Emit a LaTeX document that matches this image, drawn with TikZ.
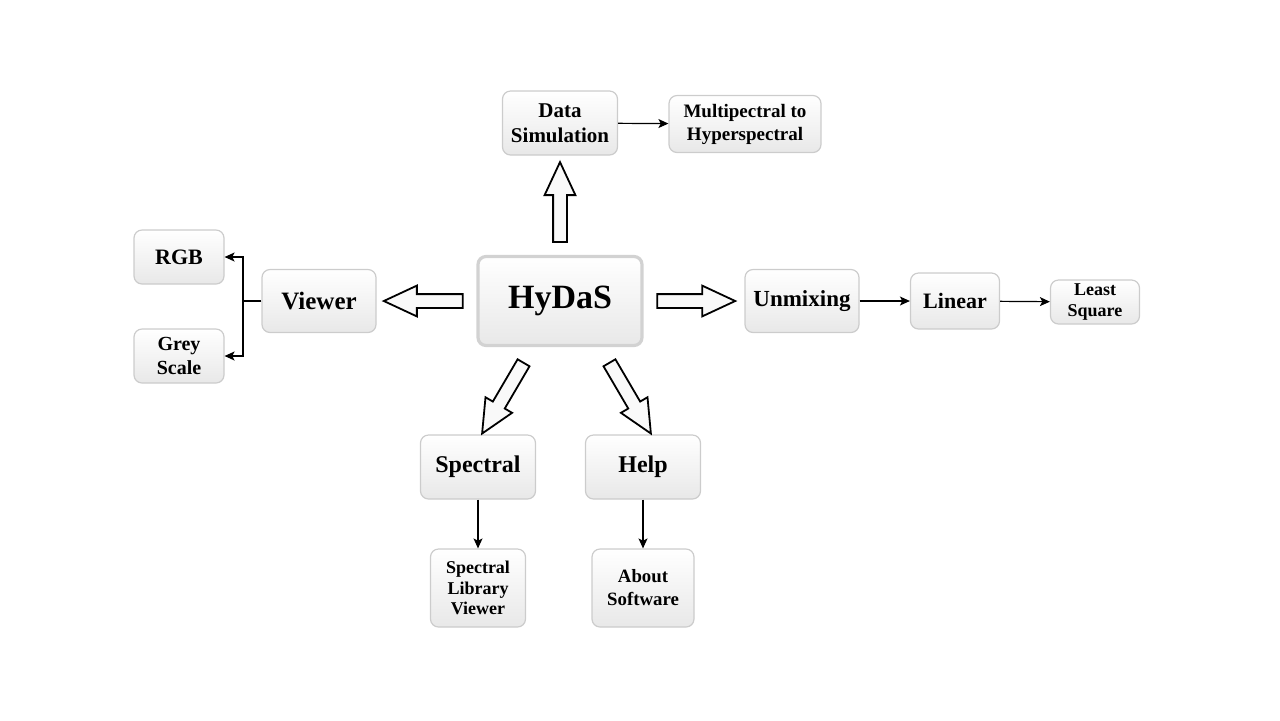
\documentclass[tikz,border=0pt]{standalone}
\usepackage{fontspec}
\setmainfont{Liberation Serif}
\usepackage{tikz}
\usetikzlibrary{shapes.arrows}
\usetikzlibrary{arrows.meta}

\begin{document}
\begin{tikzpicture}[x=0.5pt, y=-0.5pt,
    menu/.style={draw=gray!40, line width=0.6pt, rounded corners=4pt, top color=white, bottom color=gray!18, align=center, inner sep=0pt},
    bigarrow/.style={single arrow, draw=black, line width=0.9pt, fill=gray!5, inner sep=3pt, single arrow head extend=4.25pt, single arrow tip angle=50, anchor=tail},
    link/.style={-{Stealth[length=5pt, width=4.5pt, inset=1.2pt]}, line width=0.6pt}]
        \useasboundingbox (0,0) rectangle (1280,720);
        \node[menu, minimum width=82pt, minimum height=44.5pt, line width=1.6pt, draw=gray!35, font=\bfseries\fontsize{17}{19}\selectfont] (hydas) at (560,301) {HyDaS};
        \node[menu, minimum width=57.5pt, minimum height=32pt, font=\bfseries\fontsize{10.5}{12.5}\selectfont] (datasim) at (560,123) {Data\\Simulation};
        \node[menu, minimum width=76pt, minimum height=28.5pt, font=\bfseries\fontsize{9.5}{11.5}\selectfont] (multi) at (745,124) {Multipectral to\\Hyperspectral};
        \node[menu, minimum width=57pt, minimum height=31.5pt, font=\bfseries\fontsize{12.5}{14}\selectfont] (viewer) at (319,301) {Viewer};
        \node[menu, minimum width=45pt, minimum height=27pt, font=\bfseries\fontsize{11}{13}\selectfont] (rgb) at (179,257) {RGB};
        \node[menu, minimum width=45pt, minimum height=27pt, font=\bfseries\fontsize{10}{11.7}\selectfont] (grey) at (179,356) {Grey\\Scale};
        \node[menu, minimum width=57pt, minimum height=31.5pt, font=\bfseries\fontsize{11.5}{14}\selectfont] (unmix) at (802,301) {Unmixing};
        \node[menu, minimum width=44.5pt, minimum height=28pt, font=\bfseries\fontsize{11}{13}\selectfont] (linear) at (955,301) {Linear};
        \node[menu, minimum width=44.5pt, minimum height=22pt, font=\bfseries\fontsize{9}{10.5}\selectfont] (lsq) at (1095,302) {Least\\Square};
        \node[menu, minimum width=57.5pt, minimum height=32pt, font=\bfseries\fontsize{12}{14}\selectfont] (spectral) at (478,467) {Spectral};
        \node[menu, minimum width=57.5pt, minimum height=32pt, font=\bfseries\fontsize{12}{14}\selectfont] (help) at (643,467) {Help};
        \node[menu, minimum width=47.5pt, minimum height=39pt, font=\bfseries\fontsize{9}{10.3}\selectfont] (speclib) at (478,588) {Spectral\\Library\\Viewer};
        \node[menu, minimum width=51pt, minimum height=39pt, font=\bfseries\fontsize{9.4}{11.5}\selectfont] (about) at (643,588) {About\\Software};
        \coordinate (sp1) at (524,362);
        \coordinate (sp2) at (483,432);
        \coordinate (hp1) at (609,362);
        \coordinate (hp2) at (650,432);
        \coordinate (fork) at (243,301);
        \path[allow upside down] (hydas.north) -- (datasim.south) node[pos=0.12, sloped, bigarrow, minimum height=40pt] {};
        \path[allow upside down] (hydas.west) -- (viewer.east) node[pos=0.127, sloped, bigarrow, minimum height=39.5pt] {};
        \path[allow upside down] (hydas.east) -- (unmix.west) node[pos=0.126, sloped, bigarrow, minimum height=39pt] {};
        \path[allow upside down] (sp1) -- (sp2) node[pos=0, sloped, bigarrow, minimum height=41pt] {};
        \path[allow upside down] (hp1) -- (hp2) node[pos=0, sloped, bigarrow, minimum height=41pt] {};
        \draw[link] (datasim) -- (multi);
        \draw[link] (unmix) -- (linear);
        \draw[link] (linear) -- (lsq);
        \draw[link] (spectral) -- (speclib);
        \draw[link] (help) -- (about);
        \draw[link] (viewer.west) -- (fork) |- (rgb.east);
        \draw[link] (fork) |- (grey.east);
     \end{tikzpicture}
\end{document}
